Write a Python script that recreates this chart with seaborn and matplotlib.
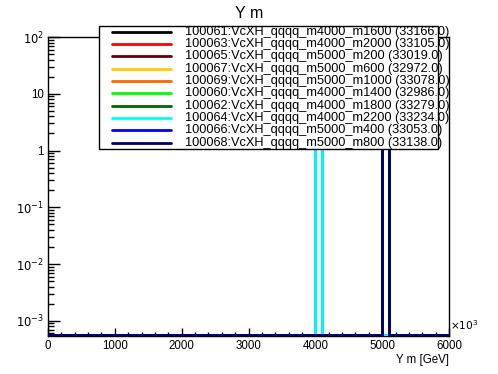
import numpy as np
import pandas as pd
import matplotlib
matplotlib.use("Agg")
import matplotlib.pyplot as plt
from matplotlib.ticker import MultipleLocator, LogLocator, NullFormatter, FuncFormatter
from matplotlib.patches import Rectangle
from matplotlib.lines import Line2D
import seaborn as sns

# ---- data ----
dsids = ["100061", "100063", "100065", "100067", "100069",
         "100060", "100062", "100064", "100066", "100068"]
samples = ["VcXH_qqqq_m4000_m1600", "VcXH_qqqq_m4000_m2000", "VcXH_qqqq_m5000_m200",
           "VcXH_qqqq_m5000_m600", "VcXH_qqqq_m5000_m1000", "VcXH_qqqq_m4000_m1400",
           "VcXH_qqqq_m4000_m1800", "VcXH_qqqq_m4000_m2200", "VcXH_qqqq_m5000_m400",
           "VcXH_qqqq_m5000_m800"]
entries = [33166.0, 33105.0, 33019.0, 32972.0, 33078.0,
           32986.0, 33279.0, 33234.0, 33053.0, 33138.0]
y_mass = [4050, 4050, 5050, 5050, 5050, 4050, 4050, 4050, 5050, 5050]
colors = ["#000000", "#ff0000", "#660000", "#ffcc00", "#ff6600",
          "#00ff00", "#006600", "#00ffff", "#0000ff", "#000066"]

sns.set_style("white")
plt.rcParams['font.family'] = ['Liberation Sans', 'DejaVu Sans']
for k in ["text.color", "axes.labelcolor", "xtick.color", "ytick.color"]:
    plt.rcParams[k] = "black"

YMIN, YMAX = 5.4e-4, 100
BASE = 5.6e-4  # empty bins drawn at the frame minimum (ROOT style)

fig = plt.figure(figsize=(4.98, 3.74), dpi=100)
ax = fig.add_axes([48/498, 1 - 336/374, (449-48)/498, (336-37)/374])
ax.set_yscale("log")

for i in range(len(dsids)):
    df = pd.DataFrame({"m": [y_mass[i]], "w": [entries[i]]})
    sns.histplot(data=df, x="m", weights="w", binwidth=100, binrange=(0, 6000),
                 element="step", fill=False, color=colors[i], linewidth=2, ax=ax)

for ln in ax.lines:
    y = np.asarray(ln.get_ydata(), dtype=float)
    y = np.where(np.isfinite(y) & (y > 0), y, BASE)
    ln.set_ydata(y)
    ln.set_zorder(3)

ax.set_xlim(0, 6000)
ax.set_ylim(YMIN, YMAX)
ax.set_ylabel("")
ax.set_xlabel("Y m [GeV]", fontsize=8.3, loc="right", labelpad=1)

for s in ax.spines.values():
    s.set_color("black")
    s.set_linewidth(1)

ax.xaxis.set_major_locator(MultipleLocator(1000))
ax.xaxis.set_minor_locator(MultipleLocator(200))
ax.yaxis.set_major_locator(LogLocator(base=10, numticks=20))
ax.yaxis.set_minor_locator(LogLocator(base=10, subs=np.arange(2, 10), numticks=20))
ax.yaxis.set_minor_formatter(NullFormatter())

def yfmt(v, pos):
    e = int(round(np.log10(v)))
    if e == 0:
        return "1"
    if e == 1:
        return "10"
    return r"$10^{%d}$" % e
ax.yaxis.set_major_formatter(FuncFormatter(yfmt))

ax.tick_params(axis="x", which="major", direction="in", length=5.8, width=1,
               labelsize=8.3, pad=3, bottom=True, top=False)
ax.tick_params(axis="x", which="minor", direction="in", length=2.8, width=1,
               bottom=True, top=False)
ax.tick_params(axis="y", which="major", direction="in", length=8.6, width=1,
               labelsize=8.3, pad=3, left=True, right=False)
ax.tick_params(axis="y", which="minor", direction="in", length=4.3, width=1,
               left=True, right=False)

ax.text(1.002, 0.035, r"$\times10^{3}$", transform=ax.transAxes, fontsize=7.6,
        ha="left", va="center")

fig.text(0.5, 1 - 13/374, "Y m", ha="center", va="center", fontsize=11.5)

# legend box (figure pixels)
W, H = 498, 374
def fx(px):
    return px / W
def fy(py):
    return 1 - py / H
rect = Rectangle((fx(99), fy(149)), fx(438) - fx(99), fy(26) - fy(149),
                 transform=fig.transFigure, facecolor="white", edgecolor="black",
                 linewidth=1, zorder=10)
fig.patches.append(rect)
for i in range(len(dsids)):
    yy = 31.7 + i * 12.33
    fig.lines.append(Line2D([fx(112), fx(171)], [fy(yy), fy(yy)],
                            transform=fig.transFigure, color=colors[i],
                            linewidth=2, zorder=11))
    fig.text(fx(185), fy(yy), "%s:%s (%.1f)" % (dsids[i], samples[i], entries[i]),
             ha="left", va="center", fontsize=9.2, zorder=12)

fig.savefig("out.png", dpi=100)
